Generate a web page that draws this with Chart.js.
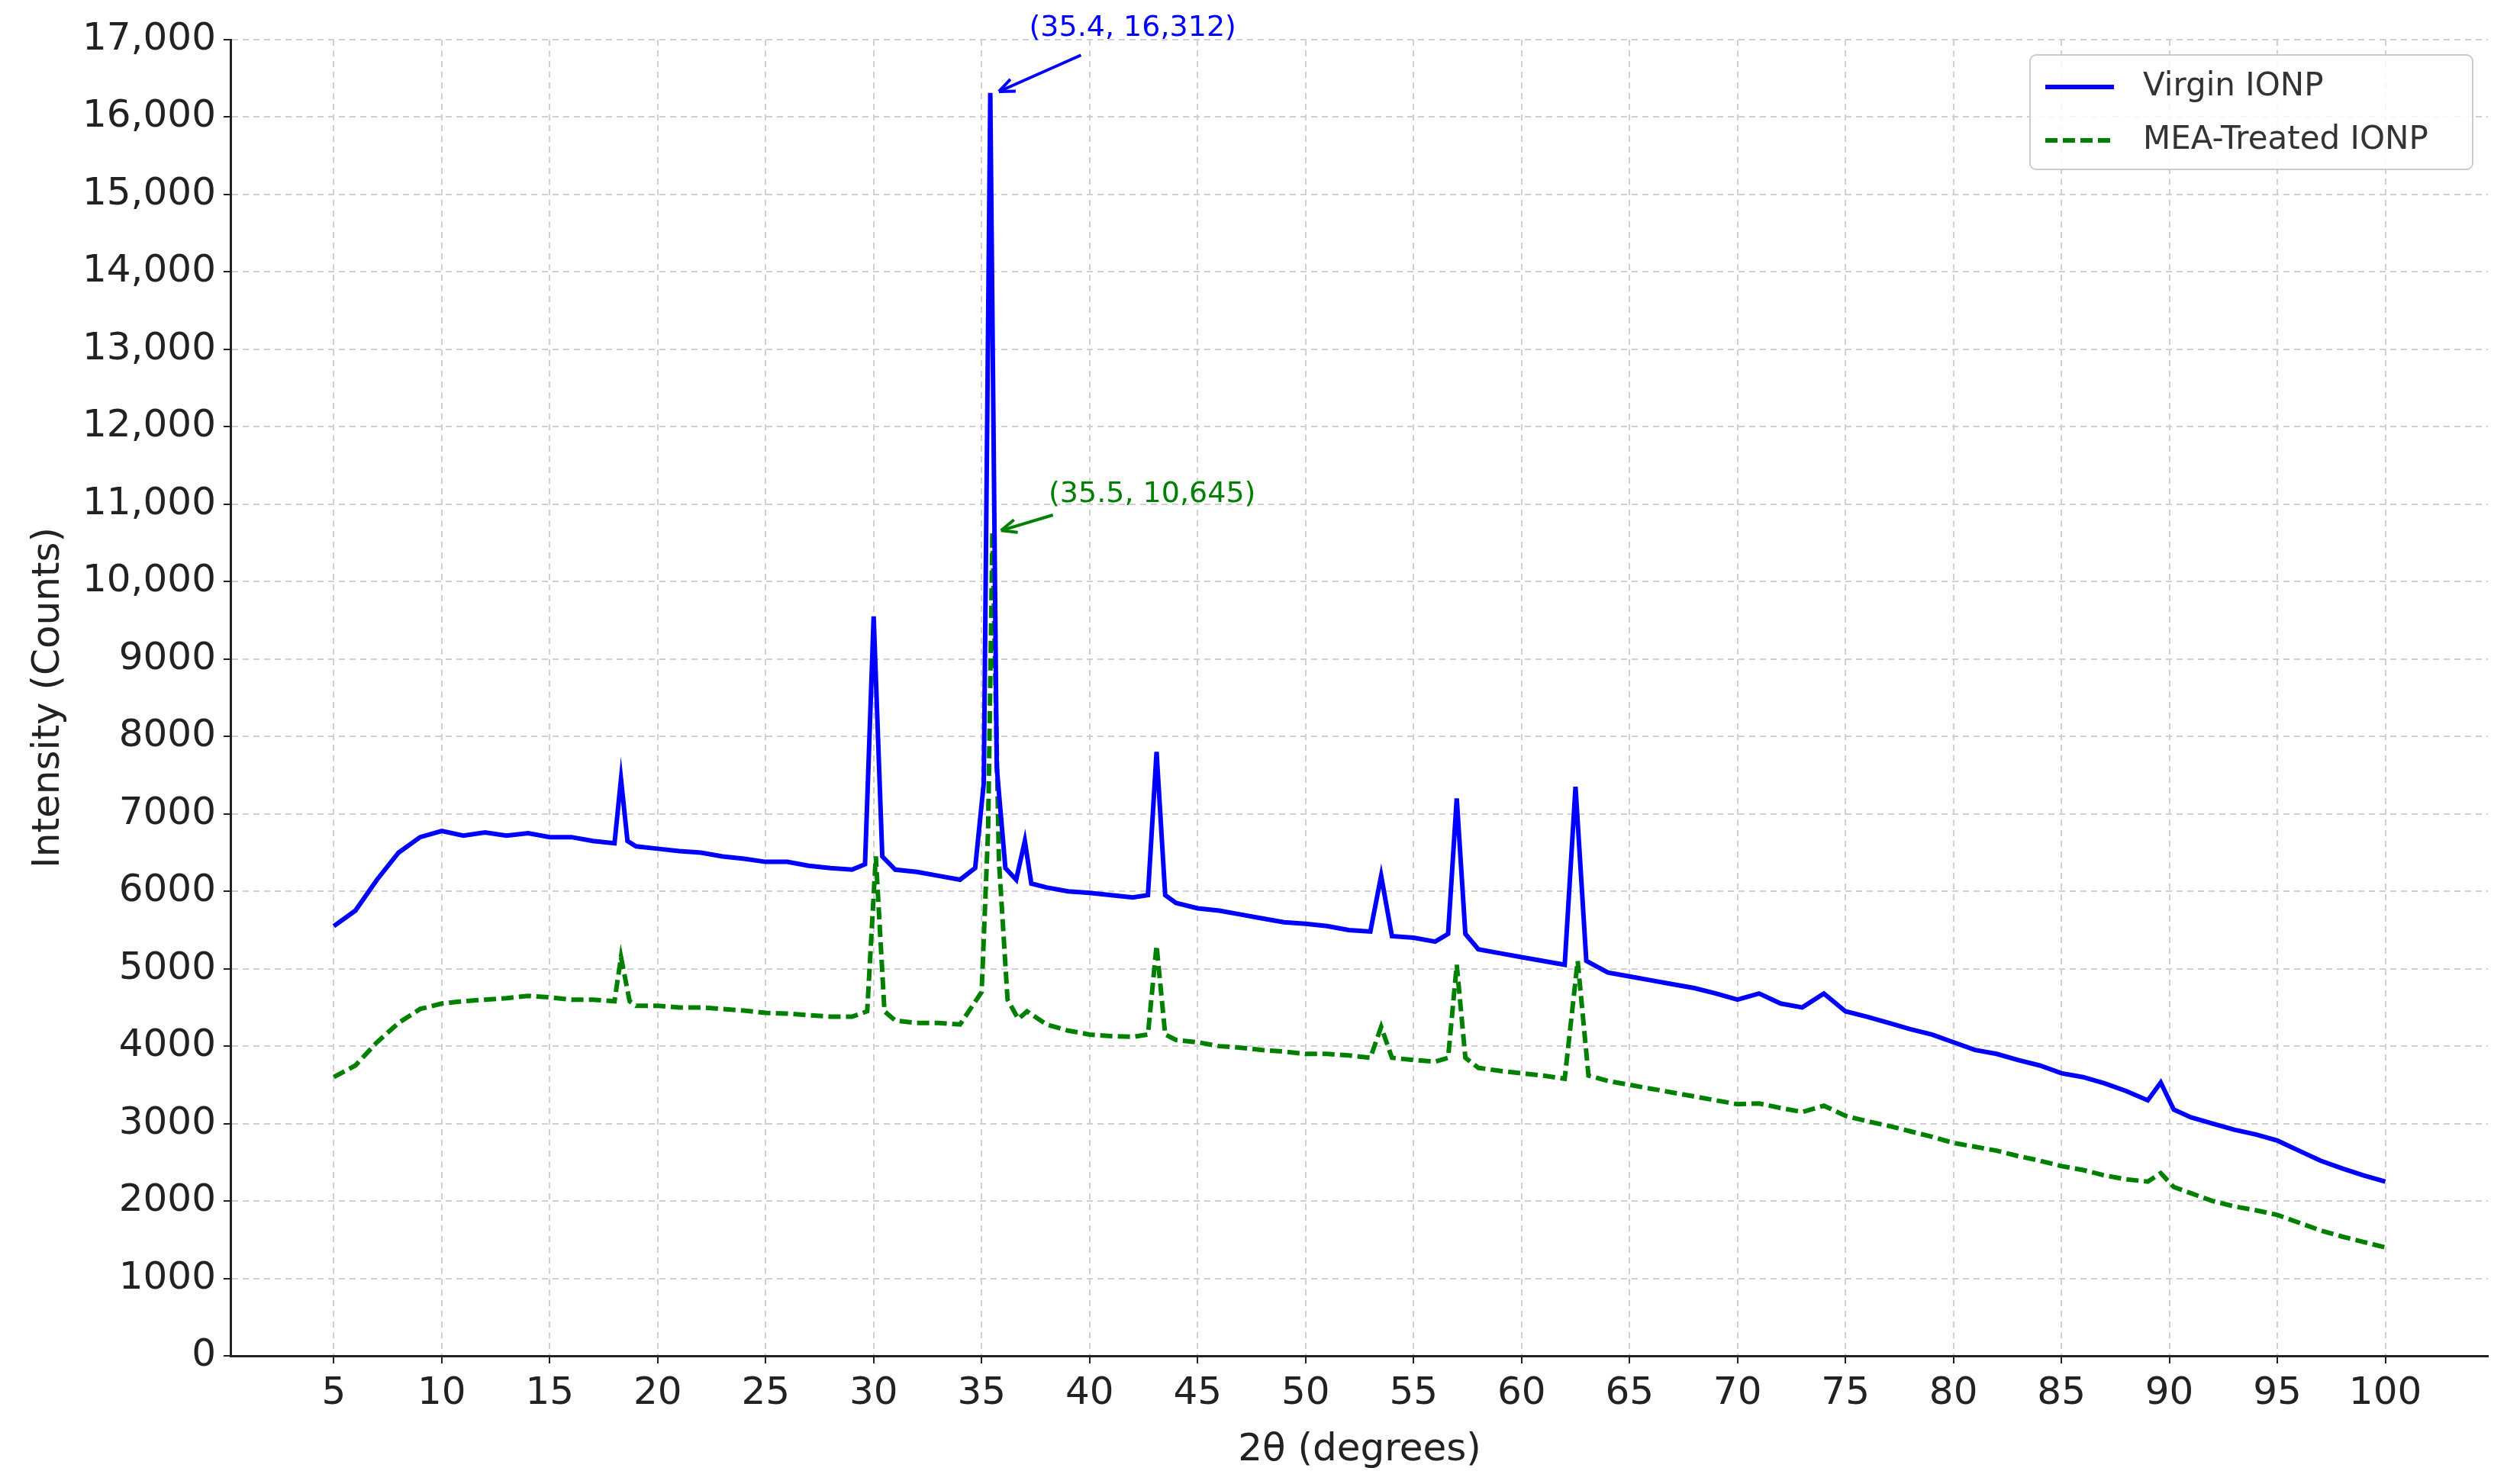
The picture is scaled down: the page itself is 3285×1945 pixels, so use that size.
<!DOCTYPE html>
<html>
<head>
<meta charset="utf-8">
<script src="https://cdn.jsdelivr.net/npm/chart.js@4/dist/chart.umd.min.js"></script>
<style>
  body { margin: 0; background: #fff; }
  #wrap { width: 3285px; height: 1945px; }
</style>
</head>
<body>
<div id="wrap"><canvas id="xrd"></canvas></div>
<script>
// Virgin IONP (blue, solid)
const virginX = [5, 6, 7, 8, 9, 10, 11, 12, 13, 14, 15, 16, 17, 18, 18.3, 18.6, 19, 20, 21, 22, 23, 24, 25, 26, 27, 28, 29, 29.6, 30.0, 30.4, 31, 32, 33, 34, 34.7, 35.1, 35.4, 35.7, 36.1, 36.6, 37.0, 37.3, 38, 39, 40, 41, 42, 42.7, 43.1, 43.5, 44, 45, 46, 47, 48, 49, 50, 51, 52, 53, 53.5, 54, 55, 56, 56.6, 57.0, 57.4, 58, 59, 60, 61, 62, 62.5, 63.0, 64, 65, 66, 67, 68, 69, 70, 71, 72, 73, 74, 75, 76, 77, 78, 79, 80, 81, 82, 83, 84, 85, 86, 87, 88, 89, 89.6, 90.2, 91, 92, 93, 94, 95, 96, 97, 98, 99, 100];
const virginY = [5550, 5750, 6150, 6500, 6700, 6780, 6720, 6760, 6720, 6750, 6700, 6700, 6650, 6620, 7450, 6650, 6580, 6550, 6520, 6500, 6450, 6420, 6380, 6380, 6330, 6300, 6280, 6350, 9550, 6450, 6280, 6250, 6200, 6150, 6300, 7400, 16312, 7600, 6300, 6150, 6650, 6100, 6050, 6000, 5980, 5950, 5920, 5950, 7800, 5950, 5850, 5780, 5750, 5700, 5650, 5600, 5580, 5550, 5500, 5480, 6200, 5420, 5400, 5350, 5450, 7200, 5450, 5250, 5200, 5150, 5100, 5050, 7350, 5100, 4950, 4900, 4850, 4800, 4750, 4680, 4600, 4680, 4550, 4500, 4680, 4450, 4380, 4300, 4220, 4150, 4050, 3950, 3900, 3820, 3750, 3650, 3600, 3520, 3420, 3300, 3530, 3180, 3080, 3000, 2920, 2860, 2780, 2650, 2520, 2420, 2330, 2250];

// MEA-Treated IONP (green, dashed)
const meaX = [5, 6, 7, 8, 9, 10, 11, 12, 13, 14, 15, 16, 17, 18, 18.3, 18.7, 19, 20, 21, 22, 23, 24, 25, 26, 27, 28, 29, 29.7, 30.1, 30.5, 31, 32, 33, 34, 35.0, 35.3, 35.5, 35.8, 36.2, 36.7, 37.1, 38, 39, 40, 41, 42, 42.7, 43.1, 43.5, 44, 45, 46, 47, 48, 49, 50, 51, 52, 53, 53.5, 54, 55, 56, 56.6, 57.0, 57.4, 58, 59, 60, 61, 62, 62.6, 63.1, 64, 65, 66, 67, 68, 69, 70, 71, 72, 73, 74, 75, 76, 77, 78, 79, 80, 81, 82, 83, 84, 85, 86, 87, 88, 89, 89.6, 90.2, 91, 92, 93, 94, 95, 96, 97, 98, 99, 100];
const meaY = [3600, 3750, 4050, 4300, 4480, 4550, 4580, 4600, 4620, 4650, 4630, 4600, 4600, 4580, 5150, 4580, 4520, 4520, 4500, 4500, 4480, 4460, 4430, 4420, 4400, 4380, 4380, 4450, 6450, 4450, 4330, 4300, 4300, 4280, 4700, 6800, 10645, 6400, 4600, 4350, 4450, 4280, 4200, 4150, 4130, 4120, 4150, 5300, 4150, 4080, 4050, 4000, 3980, 3950, 3930, 3900, 3900, 3880, 3850, 4250, 3850, 3820, 3800, 3850, 5050, 3850, 3720, 3680, 3650, 3620, 3580, 5100, 3620, 3550, 3500, 3450, 3400, 3350, 3300, 3250, 3260, 3200, 3150, 3230, 3100, 3030, 2970, 2900, 2830, 2750, 2700, 2650, 2580, 2520, 2450, 2400, 2330, 2280, 2250, 2360, 2180, 2100, 2000, 1930, 1880, 1820, 1720, 1620, 1540, 1470, 1400];

const xTicks = [5, 10, 15, 20, 25, 30, 35, 40, 45, 50, 55, 60, 65, 70, 75, 80, 85, 90, 95, 100];
const seriesNames = ["Virgin IONP", "MEA-Treated IONP"];
const seriesColors = ["#0000ff", "#008000"];

const notes = [
  { text: "(35.4, 16,312)", color: "#0000ff", tx: 37.2, ty: 17150, ax: 39.6, ay: 16800, bx: 35.8, by: 16330 },
  { text: "(35.5, 10,645)", color: "#008000", tx: 38.1, ty: 11130, ax: 38.3, ay: 10860, bx: 35.9, by: 10660 }
];

const FONT = "'DejaVu Sans', sans-serif";

function toPoints(xs, ys) {
  return xs.map((x, i) => ({ x: x, y: ys[i] }));
}

const overlay = {
  id: "overlay",
  afterDatasetsDraw(chart) {
    const ctx = chart.ctx;
    const xs = chart.scales.x, ys = chart.scales.y;
    ctx.save();
    // annotations with arrows
    notes.forEach(n => {
      ctx.fillStyle = n.color;
      ctx.strokeStyle = n.color;
      ctx.font = "38px " + FONT;
      ctx.textBaseline = "middle";
      ctx.fillText(n.text, xs.getPixelForValue(n.tx), ys.getPixelForValue(n.ty));
      const x1 = xs.getPixelForValue(n.ax), y1 = ys.getPixelForValue(n.ay);
      const x2 = xs.getPixelForValue(n.bx), y2 = ys.getPixelForValue(n.by);
      ctx.lineWidth = 4;
      ctx.beginPath(); ctx.moveTo(x1, y1); ctx.lineTo(x2, y2); ctx.stroke();
      const ang = Math.atan2(y2 - y1, x2 - x1);
      ctx.beginPath();
      ctx.moveTo(x2, y2);
      ctx.lineTo(x2 - 22 * Math.cos(ang - 0.4), y2 - 22 * Math.sin(ang - 0.4));
      ctx.moveTo(x2, y2);
      ctx.lineTo(x2 - 22 * Math.cos(ang + 0.4), y2 - 22 * Math.sin(ang + 0.4));
      ctx.stroke();
    });
    // legend box
    const area = chart.chartArea;
    const w = 580, h = 150;
    const lx = area.right - w - 20, ly = area.top + 20;
    ctx.fillStyle = "rgba(255,255,255,0.85)";
    ctx.strokeStyle = "#cccccc";
    ctx.lineWidth = 2;
    ctx.beginPath();
    ctx.roundRect(lx, ly, w, h, 8);
    ctx.fill(); ctx.stroke();
    ctx.font = "42px " + FONT;
    ctx.textBaseline = "middle";
    seriesNames.forEach((name, i) => {
      const yy = ly + 42 + i * 70;
      ctx.strokeStyle = seriesColors[i];
      ctx.lineWidth = 6;
      ctx.setLineDash(i === 1 ? [16, 7] : []);
      ctx.beginPath(); ctx.moveTo(lx + 20, yy); ctx.lineTo(lx + 110, yy); ctx.stroke();
      ctx.setLineDash([]);
      ctx.fillStyle = "#333333";
      ctx.fillText(name, lx + 148, yy);
    });
    ctx.restore();
  }
};

new Chart(document.getElementById("xrd"), {
  type: "line",
  data: {
    datasets: [
      {
        label: seriesNames[0],
        data: toPoints(virginX, virginY),
        borderColor: seriesColors[0],
        borderWidth: 6,
        pointRadius: 0,
        tension: 0
      },
      {
        label: seriesNames[1],
        data: toPoints(meaX, meaY),
        borderColor: seriesColors[1],
        borderWidth: 6,
        borderDash: [16, 7],
        pointRadius: 0,
        tension: 0
      }
    ]
  },
  options: {
    responsive: true,
    maintainAspectRatio: false,
    animation: false,
    layout: { padding: { top: 52, right: 25, left: 30, bottom: 10 } },
    plugins: { legend: { display: false }, tooltip: { enabled: false } },
    scales: {
      x: {
        type: "linear",
        min: 0.25,
        max: 104.75,
        afterBuildTicks: axis => { axis.ticks = xTicks.map(v => ({ value: v })); },
        ticks: { color: "#222", font: { size: 50, family: FONT }, padding: 10 },
        grid: { color: "#d0d0d0", lineWidth: 2, tickColor: "#222", tickLength: 10 },
        border: { color: "#222", width: 3, dash: [8, 6] },
        title: { display: true, text: "2θ (degrees)", color: "#222", font: { size: 50, family: FONT } }
      },
      y: {
        min: 0,
        max: 17000,
        ticks: {
          stepSize: 1000,
          color: "#222",
          font: { size: 50, family: FONT },
          padding: 10,
          callback: v => v >= 10000 ? v.toLocaleString("en-US") : String(v)
        },
        grid: { color: "#d0d0d0", lineWidth: 2, tickColor: "#222", tickLength: 10 },
        border: { color: "#222", width: 3, dash: [8, 6] },
        title: { display: true, text: "Intensity (Counts)", color: "#222", font: { size: 50, family: FONT } }
      }
    }
  },
  plugins: [overlay]
});
</script>
</body>
</html>
